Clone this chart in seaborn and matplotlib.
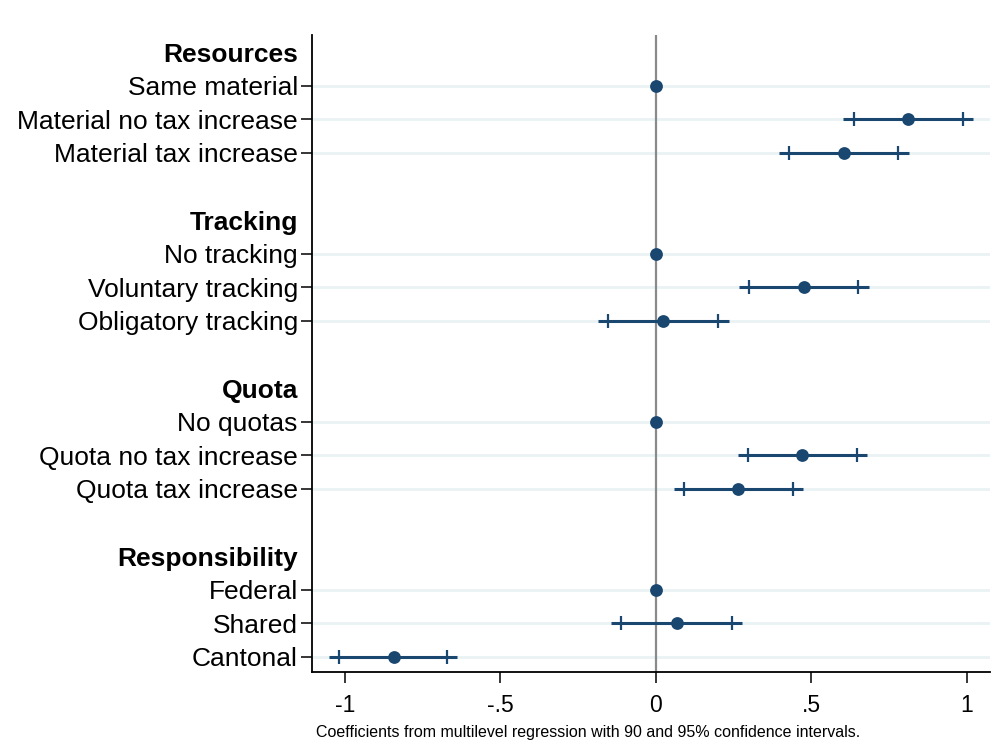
import matplotlib
matplotlib.use("Agg")
import matplotlib.pyplot as plt
import seaborn as sns
import pandas as pd
import numpy as np

sns.set_theme(style="white")
plt.rcParams["font.family"] = ["Liberation Sans", "DejaVu Sans"]
plt.rcParams["text.color"] = "black"
plt.rcParams["xtick.color"] = "black"
plt.rcParams["ytick.color"] = "black"

# Row labels, top to bottom; headers are group titles, "" is a spacer row
row_labels = [
    "Resources", "Same material", "Material no tax increase", "Material tax increase", "",
    "Tracking", "No tracking", "Voluntary tracking", "Obligatory tracking", "",
    "Quota", "No quotas", "Quota no tax increase", "Quota tax increase", "",
    "Responsibility", "Federal", "Shared", "Cantonal",
]
headers = ["Resources", "Tracking", "Quota", "Responsibility"]

# Coefficients and confidence bounds per category
categories = [
    "Same material", "Material no tax increase", "Material tax increase",
    "No tracking", "Voluntary tracking", "Obligatory tracking",
    "No quotas", "Quota no tax increase", "Quota tax increase",
    "Federal", "Shared", "Cantonal",
]
coef = [0.0, 0.81, 0.604, 0.0, 0.477, 0.024, 0.0, 0.471, 0.265, 0.0, 0.066, -0.841]
lo95 = [np.nan, 0.601, 0.396, np.nan, 0.268, -0.188, np.nan, 0.263, 0.057, np.nan, -0.145, -1.050]
hi95 = [np.nan, 1.019, 0.813, np.nan, 0.685, 0.234, np.nan, 0.680, 0.474, np.nan, 0.278, -0.641]
lo90 = [np.nan, 0.637, 0.428, np.nan, 0.299, -0.153, np.nan, 0.295, 0.089, np.nan, -0.111, -1.019]
hi90 = [np.nan, 0.987, 0.778, np.nan, 0.651, 0.200, np.nan, 0.645, 0.439, np.nan, 0.244, -0.672]

xticks = [-1, -0.5, 0, 0.5, 1]
xticklabels = ["-1", "-.5", "0", ".5", "1"]

navy = "#1a476f"
grid_col = "#eaf2f3"

df = pd.DataFrame({
    "category": categories, "coef": coef,
    "lo95": lo95, "hi95": hi95, "lo90": lo90, "hi90": hi90,
})
df["row"] = [row_labels.index(c) for c in categories]

fig = plt.figure(figsize=(10.02, 7.44), dpi=100)
ax = fig.add_axes([312 / 1002, 1 - 672 / 744, (990 - 312) / 1002, (672 - 35) / 744])

# light row guides at category rows
for r in df["row"]:
    ax.axhline(r, color=grid_col, lw=2.0, zorder=0)

ax.axvline(0, color="#8a8a8a", lw=1.6, zorder=1)

ci = df.dropna()
ax.hlines(ci["row"], ci["lo95"], ci["hi95"], color=navy, lw=2.2, zorder=2)
ticks90 = pd.DataFrame({
    "x": pd.concat([ci["lo90"], ci["hi90"]]),
    "row": pd.concat([ci["row"], ci["row"]]),
})
sns.scatterplot(data=ticks90, x="x", y="row", marker="|", s=110, linewidth=1.6,
                color=navy, ax=ax, zorder=3, legend=False)
sns.scatterplot(data=df, x="coef", y="row", s=85, color=navy, edgecolor=navy,
                linewidth=0, ax=ax, zorder=4, legend=False)

ax.set_xlim(-1.106, 1.074)
ax.set_ylim(18.45, -0.506)
ax.set_xticks(xticks)
ax.set_xticklabels(xticklabels, fontsize=16.5)
ax.set_yticks(range(len(row_labels)))
ax.set_yticklabels(row_labels, fontsize=19)
ax.set_xlabel("")
ax.set_ylabel("")

ax.tick_params(axis="y", length=8, width=1.1, color="black", pad=2.2, left=True)
ax.tick_params(axis="x", length=8, width=1.1, color="black", pad=8, bottom=True)

for lab, tk in zip(row_labels, ax.yaxis.get_major_ticks()):
    if lab in headers or lab == "":
        tk.tick1line.set_visible(False)
        tk.label1.set_fontweight("bold")

for side in ["top", "right"]:
    ax.spines[side].set_visible(False)
for side in ["left", "bottom"]:
    ax.spines[side].set_color("black")
    ax.spines[side].set_linewidth(1.3)

fig.text(588 / 1002, 1 - 733 / 744,
         "Coefficients from multilevel regression with 90 and 95% confidence intervals.",
         ha="center", va="center", fontsize=11.5)

fig.savefig("out.png", dpi=100)
